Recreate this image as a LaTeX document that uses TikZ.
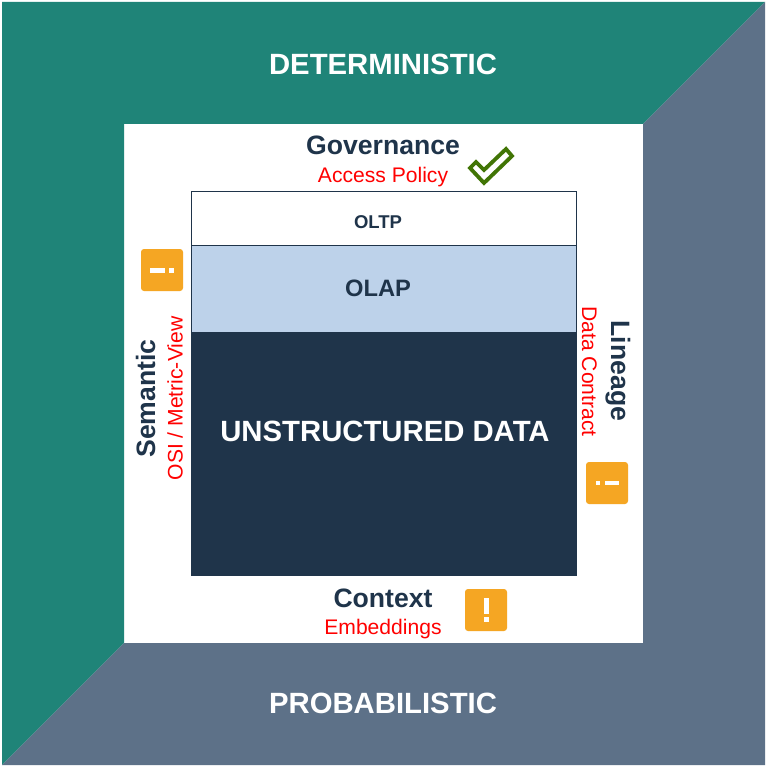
\documentclass[tikz,border=0pt]{standalone}
\usepackage{fontspec}
\setmainfont{Liberation Sans}
\definecolor{teal1}{HTML}{1F8478}
\definecolor{slate1}{HTML}{5D7188}
\definecolor{navy1}{HTML}{1F344A}
\definecolor{olap1}{HTML}{BDD2EA}
\definecolor{amber1}{HTML}{F5A623}
\definecolor{check1}{HTML}{417505}
\definecolor{red1}{HTML}{FF0000}
\newcommand{\fs}[1]{\fontsize{#1}{#1}\selectfont}
\tikzset{
  big/.style={text=white,font=\fs{29.3}\bfseries,inner sep=0pt},
  head/.style={text=navy1,font=\fs{26.6}\bfseries,inner sep=0pt},
  sub/.style={text=red1,font=\fs{21.1}\mdseries,inner sep=0pt},
  layer/.style={draw=navy1,line width=1pt,inner sep=0pt},
  badge/.style={fill=amber1,draw=none,rounded corners=3pt},
  mark1/.style={fill=white,draw=none},
}
\begin{document}
\begin{tikzpicture}[x=1pt,y=-1pt]
\useasboundingbox (0,0) rectangle (767,767);
\fill[white] (0,0) rectangle (767,767);
% outer panels
\fill[teal1] (2,2) -- (765,2) -- (643,124) -- (124,124) -- (124,643) -- (2,765) -- cycle;
\fill[slate1] (765,2) -- (765,765) -- (2,765) -- (124,643) -- (643,643) -- (643,124) -- cycle;
% layers
\fill[olap1] (191.5,245.5) rectangle (576.5,332);
\fill[navy1] (191.5,332) rectangle (576.5,575.5);
\draw[layer] (191.5,191.5) rectangle (576.5,575.5);
\draw[layer] (191.5,245) -- (576.5,245);
% labels
\node[big] (det) at (383,64) {DETERMINISTIC};
\node[big] (prob) at (383,703) {PROBABILISTIC};
\node[head] (gov) at (383,145) {Governance};
\node[sub] (acc) at (383,177) {Access Policy};
\node[head] (ctx) at (383,598) {Context};
\node[sub] (emb) at (383,629.5) {Embeddings};
\node[head,rotate=90] (sem) at (145.5,398.5) {Semantic};
\node[sub,rotate=90] (osi) at (175,398.5) {OSI / Metric-View};
\node[head,rotate=-90] (lin) at (618,371) {Lineage};
\node[sub,rotate=-90] (dc) at (589.5,371.5) {Data Contract};
\node[text=navy1,font=\fs{18.5}\bfseries,inner sep=0pt] (oltp) at (378,222) {OLTP};
\node[text=navy1,font=\fs{23.7}\bfseries,inner sep=0pt] (olap) at (378,288) {OLAP};
\node[text=white,font=\fs{29.3}\bfseries,inner sep=0pt] (uns) at (385,431) {UNSTRUCTURED DATA};
% check mark
\draw[check1,line width=3.8pt,fill=white,line join=miter] (470,168) -- (476,162) -- (484,170) -- (506,149) -- (512,156) -- (484,183) -- cycle;
% badges
\fill[badge] (141,249) rectangle (183,291);
\fill[mark1] (150,267.5) rectangle (164.5,272.5);
\fill[mark1] (169,267.5) rectangle (173.5,272.5);
\fill[badge] (586,462) rectangle (628,504);
\fill[mark1] (595.7,480.7) rectangle (600.3,485.3);
\fill[mark1] (604.7,480.7) rectangle (619,485.3);
\fill[badge] (465,589) rectangle (507,631);
\fill[mark1] (483.5,598) rectangle (488.8,613.5);
\fill[mark1] (483.5,616.5) rectangle (488.8,621.7);
\end{tikzpicture}
\end{document}
